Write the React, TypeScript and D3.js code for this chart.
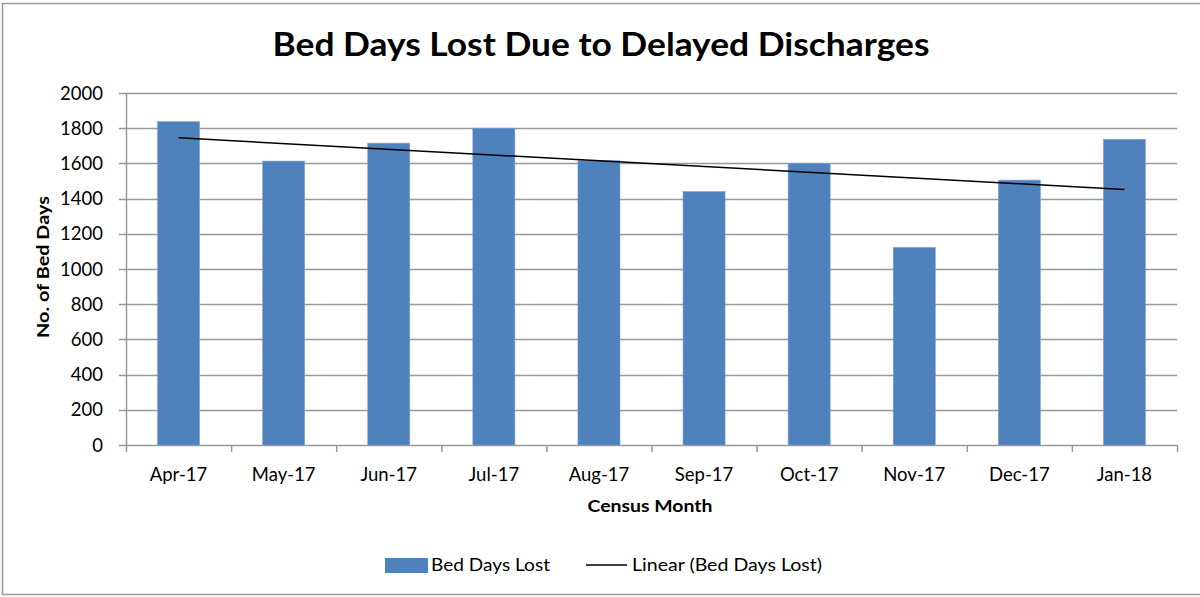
import React from "react";
import * as d3 from "d3";

const categories = ["Apr-17", "May-17", "Jun-17", "Jul-17", "Aug-17", "Sep-17", "Oct-17", "Nov-17", "Dec-17", "Jan-18"];
const bedDaysLost = [1837, 1613, 1715, 1800, 1615, 1440, 1600, 1123, 1505, 1737];
const yTicks = [0, 200, 400, 600, 800, 1000, 1200, 1400, 1600, 1800, 2000];

const W = 1200;
const H = 597;
const FONT = "Lato, 'Open Sans', sans-serif";

export default function App() {
  const left = 126, right = 1177, top = 93, bottom = 445;
  const x = d3.scaleBand<string>().domain(categories).range([left, right]).paddingInner(0.6).paddingOuter(0.3);
  const xb = d3.scaleBand<string>().domain(categories).range([left, right]);
  const y = d3.scaleLinear().domain([0, 2000]).range([bottom, top]);

  // linear trend (least squares)
  const n = bedDaysLost.length;
  const xs = bedDaysLost.map((_, i) => i + 1);
  const mx = d3.mean(xs)!;
  const my = d3.mean(bedDaysLost)!;
  const sxy = d3.sum(xs.map((v, i) => (v - mx) * (bedDaysLost[i] - my)));
  const sxx = d3.sum(xs.map((v) => (v - mx) ** 2));
  const slope = sxy / sxx;
  const icpt = my - slope * mx;
  const trendPts = [icpt + slope * xs[0], icpt + slope * xs[n - 1]];
  const trendLine = d3
    .line<number>()
    .x((_, i) => xb(categories[i === 0 ? 0 : n - 1])! + xb.bandwidth() / 2)
    .y((d) => y(d));

  const gridColor = "#999999";

  return (
    <svg width={W} height={H} style={{ position: "absolute", left: 0, top: 0, background: "#fff" }}>
      <rect x={2.5} y={3.5} width={W} height={591} fill="#fff" stroke="#9a9a9a" strokeWidth={1.5} />
      <text x={601} y={56} textAnchor="middle" fontFamily={FONT} fontWeight={700} fontSize={33} fill="#000" textLength={657} lengthAdjust="spacingAndGlyphs">
        Bed Days Lost Due to Delayed Discharges
      </text>
      {yTicks.map((t) => (
        <line key={t} x1={left - 7} x2={right} y1={Math.round(y(t)) + 0.5} y2={Math.round(y(t)) + 0.5} stroke={gridColor} strokeWidth={1.5} />
      ))}
      <line x1={left + 0.5} x2={left + 0.5} y1={top} y2={bottom} stroke={gridColor} strokeWidth={1.5} />
      {categories.map((c) => (
        <line key={c} x1={xb(c)! + 0.5} x2={xb(c)! + 0.5} y1={bottom} y2={bottom + 7} stroke={gridColor} strokeWidth={1.5} />
      ))}
      <line x1={right + 0.5} x2={right + 0.5} y1={bottom} y2={bottom + 7} stroke={gridColor} strokeWidth={1.5} />
      {bedDaysLost.map((v, i) => (
        <rect key={i} x={x(categories[i])} y={y(v)} width={x.bandwidth()} height={bottom - y(v)} fill="#4f81bd" stroke="#7ea1d2" strokeWidth={0.6} />
      ))}
      <path d={trendLine(trendPts)!} fill="none" stroke="#000" strokeWidth={1.5} />
      {yTicks.map((t) => (
        <text key={t} x={103} y={y(t) + 6.5} textAnchor="end" fontFamily={FONT} fontSize={18.5} fill="#000">
          {t}
        </text>
      ))}
      {categories.map((c) => (
        <text key={c} x={xb(c)! + xb.bandwidth() / 2} y={481} textAnchor="middle" fontFamily={FONT} fontSize={18.5} fill="#000">
          {c}
        </text>
      ))}
      <text x={650} y={512} textAnchor="middle" fontFamily={FONT} fontWeight={700} fontSize={17} fill="#000" textLength={125} lengthAdjust="spacingAndGlyphs">
        Census Month
      </text>
      <text transform={`translate(49,${(top + bottom) / 2 - 2}) rotate(-90)`} textAnchor="middle" fontFamily={FONT} fontWeight={700} fontSize={17} fill="#000" textLength={142} lengthAdjust="spacingAndGlyphs">
        No. of Bed Days
      </text>
      <rect x={385} y={558} width={43} height={15} fill="#4f81bd" />
      <text x={431} y={571} fontFamily={FONT} fontSize={18} fill="#000" textLength={119} lengthAdjust="spacingAndGlyphs">
        Bed Days Lost
      </text>
      <line x1={586} x2={627} y1={565} y2={565} stroke="#000" strokeWidth={1.5} />
      <text x={632} y={571} fontFamily={FONT} fontSize={18} fill="#000" textLength={190} lengthAdjust="spacingAndGlyphs">
        Linear (Bed Days Lost)
      </text>
    </svg>
  );
}
